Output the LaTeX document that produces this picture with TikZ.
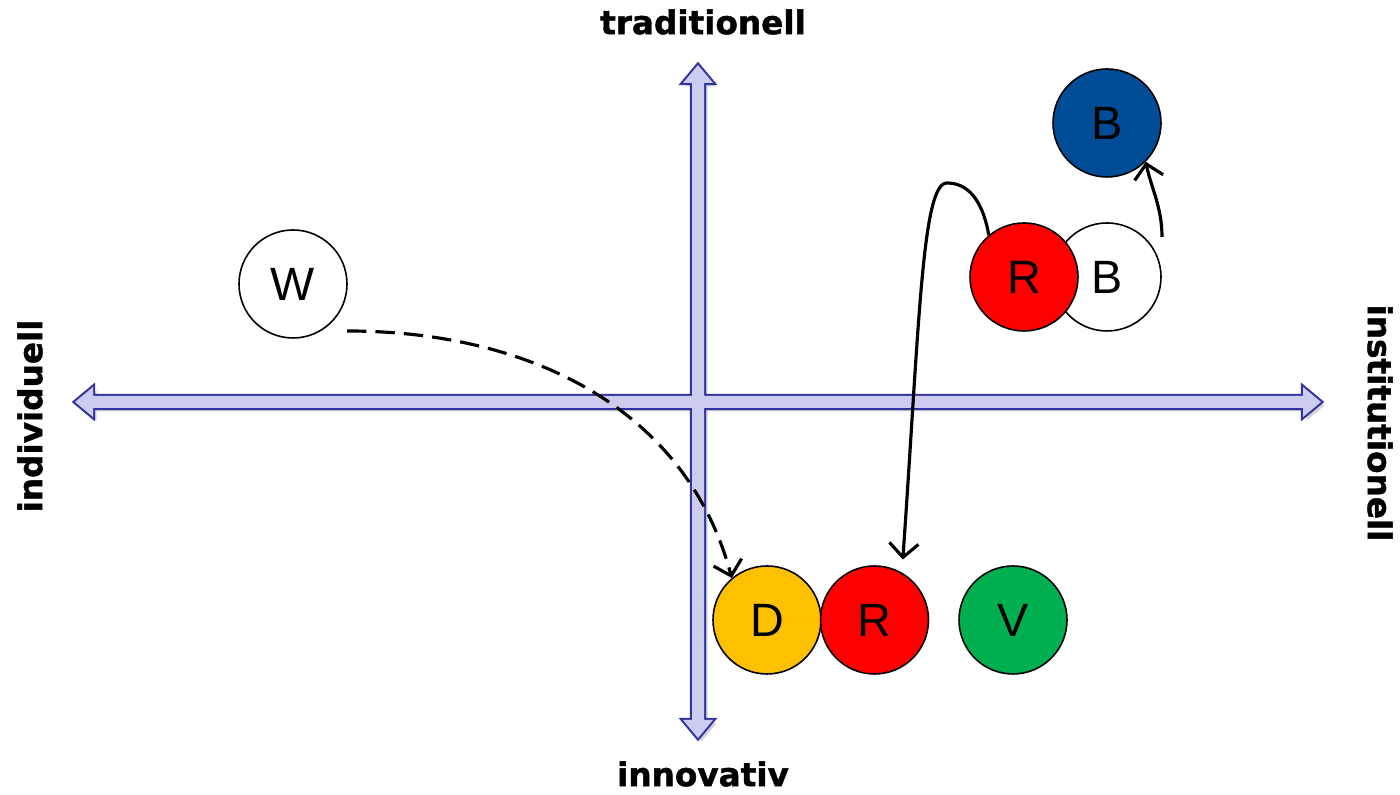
\documentclass[tikz,border=0pt]{standalone}
\usepackage{fontspec}
\setmainfont{Liberation Sans}
\newfontfamily\axisfont[BoldFeatures={FakeBold=1.3}]{DejaVu Sans}
\usepackage{tikz}
\usetikzlibrary{arrows,arrows.meta}

\definecolor{axisblue}{RGB}{51,51,160}
\definecolor{axislav}{RGB}{204,204,240}
\definecolor{bblue}{RGB}{0,76,151}
\definecolor{dyellow}{RGB}{255,192,0}
\definecolor{vgreen}{RGB}{0,176,80}

\tikzset{
  circ/.style={circle, draw=black, line width=0.45pt, minimum size=1.08cm,
               inner sep=0pt, font=\fontsize{13.3}{13.3}\selectfont},
  axislabel/.style={font=\axisfont\bfseries\fontsize{9.3}{10}\selectfont, inner sep=0pt},
  link/.style={line width=0.9pt, -{Straight Barb[length=1.4mm,width=2.9mm]}}
}

\begin{document}
\begin{tikzpicture}
    \useasboundingbox (0,0) rectangle (14,7.95);

    % axes: shadow, outline, then fill (merged cross)
    \fill[gray, opacity=0.35, shift={(0.035,-0.035)}]
        (0.75,3.93) -- (0.93,4.08) -- (0.93,3.99) -- (13.03,3.99) -- (13.03,4.08)
        -- (13.21,3.93) -- (13.03,3.78) -- (13.03,3.87) -- (0.93,3.87) -- (0.93,3.78) -- cycle
        (6.98,7.30) -- (7.13,7.12) -- (7.04,7.12) -- (7.04,0.75) -- (7.13,0.75)
        -- (6.98,0.57) -- (6.83,0.75) -- (6.92,0.75) -- (6.92,7.12) -- (6.83,7.12) -- cycle;
    \draw[axisblue, line width=1.2pt, line join=miter]
        (0.75,3.93) -- (0.93,4.08) -- (0.93,3.99) -- (13.03,3.99) -- (13.03,4.08)
        -- (13.21,3.93) -- (13.03,3.78) -- (13.03,3.87) -- (0.93,3.87) -- (0.93,3.78) -- cycle
        (6.98,7.30) -- (7.13,7.12) -- (7.04,7.12) -- (7.04,0.75) -- (7.13,0.75)
        -- (6.98,0.57) -- (6.83,0.75) -- (6.92,0.75) -- (6.92,7.12) -- (6.83,7.12) -- cycle;
    \fill[axislav]
        (0.75,3.93) -- (0.93,4.08) -- (0.93,3.99) -- (13.03,3.99) -- (13.03,4.08)
        -- (13.21,3.93) -- (13.03,3.78) -- (13.03,3.87) -- (0.93,3.87) -- (0.93,3.78) -- cycle
        (6.98,7.30) -- (7.13,7.12) -- (7.04,7.12) -- (7.04,0.75) -- (7.13,0.75)
        -- (6.98,0.57) -- (6.83,0.75) -- (6.92,0.75) -- (6.92,7.12) -- (6.83,7.12) -- cycle;

    % axis labels
    \node[axislabel] (trad) at (7.03,7.73) {traditionell};
    \node[axislabel] (inno) at (7.03,0.21) {innovativ};
    \node[axislabel, rotate=90] (indi) at (0.30,3.79) {individuell};
    \node[axislabel, rotate=-90] (inst) at (13.80,3.72) {institutionell};

    % circles
    \node[circ, fill=white] (W) at (2.93,5.11) {W};
    \node[circ, fill=bblue] (Bb) at (11.07,6.72) {B};
    \node[circ, fill=white] (Bw) at (11.07,5.18) {B};
    \node[circ, fill=red] (Rt) at (10.24,5.18) {R};
    \node[circ, fill=dyellow] (D) at (7.67,1.75) {D};
    \node[circ, fill=red] (Rb) at (8.745,1.75) {R};
    \node[circ, fill=vgreen] (V) at (10.13,1.75) {V};

    % free ends and bend
    \coordinate (wstart) at (3.47,4.64);
    \coordinate (bstart) at (11.62,5.58);
    \coordinate (rpeak) at (9.47,6.12);

    % connectors
    \draw[link, dash pattern=on 5.5pt off 2.6pt] (wstart) to[out=0,in=105] (D.130);
    \draw[link, shorten >=1.3mm] (Rt.130) to[out=100,in=0] (rpeak)
        to[out=180,in=86,out distance=0.25cm,in distance=2.5cm] (Rb.60);
    \draw[link] (bstart) .. controls +(0,0.30) and +(0.05,-0.25) .. (Bb.-45);

\end{tikzpicture}
\end{document}
